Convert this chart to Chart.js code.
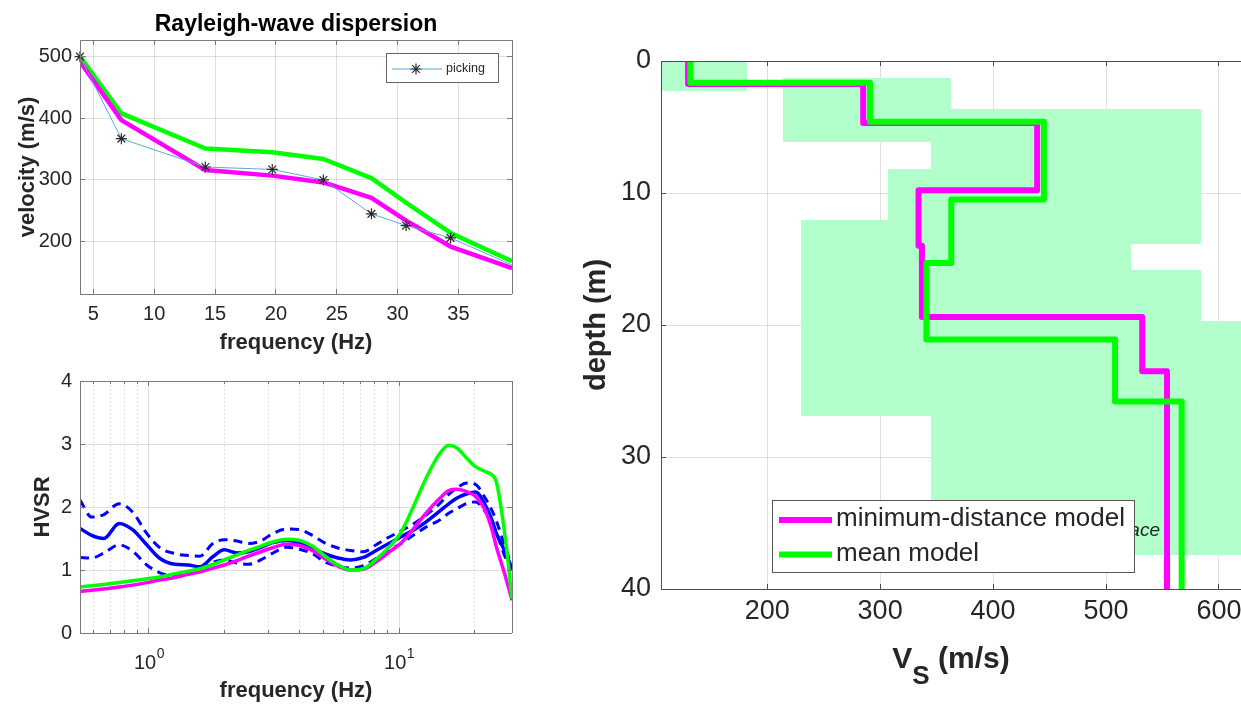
<!DOCTYPE html>
<html>
<head>
<meta charset="utf-8">
<title>Dispersion, HVSR and Vs profile</title>
<script src="https://cdn.jsdelivr.net/npm/chart.js@4.4.1/dist/chart.umd.min.js"></script>
<style>
  html, body { margin: 0; padding: 0; background: #fff; overflow: hidden; width: 1241px; height: 704px; }
  .panel { position: absolute; }
</style>
</head>
<body>
<div class="panel" style="left:0;top:0;width:530px;height:360px"><canvas id="disp"></canvas></div>
<div class="panel" style="left:0;top:360px;width:530px;height:344px"><canvas id="hvsr"></canvas></div>
<div class="panel" style="left:540px;top:0;width:701px;height:704px"><canvas id="vs"></canvas></div>
<script>
// ---------- Rayleigh-wave dispersion (velocity vs frequency) ----------
const DISP_FREQ       = [3.9, 7.3, 14.2, 19.7, 23.9, 27.85, 30.7, 34.35, 39.4];
const DISP_PICKING    = [500, 367, 321, 317, 300, 245, 226, 206, 162];
const DISP_MINDIST    = [492, 397, 316, 307, 296, 271, 234, 192, 157];
const DISP_MEAN       = [500, 408, 351, 345, 334, 303, 263, 214, 168];
const DISP_FREQ_TICKS = [5, 10, 15, 20, 25, 30, 35];
const DISP_VEL_TICKS  = [200, 300, 400, 500];

// ---------- HVSR curves (log frequency) ----------
const HVSR_FREQ = [0.53, 0.59, 0.66, 0.76, 0.86, 0.98, 1.1, 1.27, 1.43, 1.6, 1.8, 2.0, 2.25, 2.5, 2.8, 3.1, 3.55, 4.0, 4.5, 5.1,
                   5.7, 6.4, 7.2, 8.1, 9.1, 10.2, 11.4, 12.8, 14.5, 15.8, 17.0, 18.7, 20.2, 22.2, 23.5, 24.5, 26.5, 28.3];
const HVSR_MEAN = [1.66, 1.55, 1.50, 1.74, 1.64, 1.40, 1.19, 1.09, 1.08, 1.05, 1.21, 1.32, 1.27, 1.29, 1.36, 1.43, 1.47, 1.43, 1.34, 1.25,
                   1.19, 1.16, 1.20, 1.31, 1.42, 1.53, 1.63, 1.76, 1.93, 2.05, 2.14, 2.21, 2.24, 2.02, 1.80, 1.58, 1.30, 1.02];
const HVSR_PLUS = [2.11, 1.84, 1.88, 2.05, 1.92, 1.58, 1.36, 1.26, 1.23, 1.22, 1.42, 1.48, 1.46, 1.42, 1.46, 1.57, 1.65, 1.64, 1.55, 1.42,
                   1.35, 1.31, 1.29, 1.40, 1.52, 1.62, 1.73, 1.87, 2.05, 2.20, 2.30, 2.38, 2.36, 2.13, 1.95, 1.78, 1.38, 1.05];
const HVSR_MINUS = [1.20, 1.19, 1.27, 1.40, 1.30, 1.08, 0.96, 0.91, 0.93, 1.00, 1.12, 1.16, 1.11, 1.09, 1.16, 1.26, 1.36, 1.33, 1.26, 1.12,
                    1.06, 1.03, 1.07, 1.18, 1.31, 1.42, 1.55, 1.68, 1.79, 1.90, 1.97, 2.06, 2.08, 1.92, 1.76, 1.60, 1.22, 1.00];
const HVSR_MINDIST = [0.66, 0.68, 0.70, 0.73, 0.76, 0.80, 0.84, 0.88, 0.93, 0.97, 1.03, 1.08, 1.15, 1.22, 1.29, 1.35, 1.41, 1.39, 1.31, 1.17,
                      1.06, 1.00, 1.01, 1.13, 1.28, 1.43, 1.65, 1.90, 2.13, 2.26, 2.28, 2.24, 2.17, 1.93, 1.65, 1.37, 0.93, 0.52];
const HVSR_MEANMODEL = [0.73, 0.75, 0.77, 0.80, 0.83, 0.86, 0.89, 0.94, 0.98, 1.02, 1.09, 1.16, 1.24, 1.31, 1.38, 1.44, 1.49, 1.47, 1.38, 1.21,
                        1.08, 1.00, 1.02, 1.17, 1.36, 1.60, 2.00, 2.45, 2.84, 2.98, 2.94, 2.77, 2.64, 2.56, 2.51, 2.40, 1.56, 0.55];
const HVSR_FREQ_TICKS = [1, 10];
const HVSR_Y_TICKS    = [0, 1, 2, 3, 4];

// ---------- Vs profiles (layer velocities and layer bottoms, m) ----------
const MINDIST_VS     = [130, 285, 439, 334, 337, 532, 554];
const MINDIST_BOTTOM = [1.75, 4.7, 9.8, 14.0, 19.4, 23.5];
const MEAN_VS        = [132, 291, 445, 363, 341, 508, 567];
const MEAN_BOTTOM    = [1.65, 4.6, 10.5, 15.3, 21.1, 25.8];
// search-space blocks: Vs range and depth range
const SPACE_VS_MIN = [106, 214, 345, 307, 230, 345, 345];
const SPACE_VS_MAX = [182, 363, 584, 400, 522, 584, 650];
const SPACE_TOP    = [0, 1.3, 3.6, 8.2, 12.05, 15.8, 19.7];
const SPACE_BOTTOM = [2.25, 6.1, 13.9, 12.05, 26.9, 19.7, 37.4];
const VS_TICKS    = [200, 300, 400, 500, 600];
const DEPTH_TICKS = [0, 10, 20, 30, 40];

// ---------- shared styling ----------
Chart.defaults.font.family = "'Liberation Sans', Arial, Helvetica, sans-serif";
Chart.defaults.color = '#262626';
const INK = '#262626';
const GRID = 'rgba(38,38,38,0.14)';
const MAGENTA = '#ff00ff';
const GREEN = '#00ff00';
const BLUE = '#0000ff';
const PICK_BLUE = 'rgb(95,165,220)';
const SHADE = 'rgb(179,255,204)';

const snap = p => Math.round(p - 0.5) + 0.5;
const pts = (xs, ys) => xs.map((x, i) => ({ x, y: ys[i] }));
const fixedTicks = list => scale => { scale.ticks = list.map(v => ({ value: v })); };
// fixed axis box size, no extra room reserved for end labels
const fixX = h => s => { s.height = h; s.paddingLeft = 0; s.paddingRight = 0; };
const fixY = w => s => { s.width = w; s.paddingTop = 0; s.paddingBottom = 0; };

// step profile: vertical segment per layer, horizontal jump at each interface
function profilePoints(vs, bottoms, maxDepth) {
  const out = [];
  let top = 0;
  vs.forEach((v, i) => {
    const bot = i < bottoms.length ? bottoms[i] : maxDepth;
    out.push({ x: v, y: top }, { x: v, y: bot });
    top = bot;
  });
  return out;
}

// box, grid and inward tick marks
const framePlugin = {
  id: 'frame',
  beforeDatasetsDraw(chart, _a, o) {
    const { ctx, chartArea: a, scales: { x: xs, y: ys } } = chart;
    ctx.save();
    ctx.lineWidth = 1;
    const V = p => { ctx.beginPath(); ctx.moveTo(p, a.top); ctx.lineTo(p, a.bottom); ctx.stroke(); };
    const H = p => { ctx.beginPath(); ctx.moveTo(a.left, p); ctx.lineTo(a.right, p); ctx.stroke(); };
    if (o.xMinor) {
      ctx.strokeStyle = o.minorGrid;
      ctx.setLineDash([1.5, 2.5]);
      o.xMinor.forEach(v => { const p = snap(xs.getPixelForValue(v)); if (p > a.left + 1 && p < a.right - 1) V(p); });
      ctx.setLineDash([]);
    }
    ctx.strokeStyle = GRID;
    xs.ticks.forEach(t => { const p = snap(xs.getPixelForValue(t.value)); if (p > a.left + 1 && p < a.right - 1) V(p); });
    ys.ticks.forEach(t => { const p = snap(ys.getPixelForValue(t.value)); if (p > a.top + 1 && p < a.bottom - 1) H(p); });
    ctx.restore();
  },
  afterDatasetsDraw(chart, _a, o) {
    const { ctx, chartArea: a, scales: { x: xs, y: ys } } = chart;
    const sides = o.sides || { top: true, right: true, bottom: true, left: true };
    const L = snap(a.left), R = snap(a.right), T = snap(a.top), B = snap(a.bottom);
    const len = o.tickLen || 5;
    ctx.save();
    ctx.strokeStyle = o.color;
    ctx.lineWidth = 1;
    const seg = (x1, y1, x2, y2) => { ctx.beginPath(); ctx.moveTo(x1, y1); ctx.lineTo(x2, y2); ctx.stroke(); };
    if (sides.top) seg(a.left, T, a.right, T);
    if (sides.bottom) seg(a.left, B, a.right, B);
    if (sides.left) seg(L, a.top, L, a.bottom);
    if (sides.right) seg(R, a.top, R, a.bottom);
    const xTick = (v, l) => {
      const p = snap(xs.getPixelForValue(v));
      if (p < a.left || p > a.right) return;
      if (sides.top) seg(p, a.top, p, a.top + l);
      if (sides.bottom) seg(p, a.bottom, p, a.bottom - l);
    };
    xs.ticks.forEach(t => xTick(t.value, len));
    (o.xMinor || []).forEach(v => xTick(v, o.minorLen || 3));
    ys.ticks.forEach(t => {
      const p = snap(ys.getPixelForValue(t.value));
      if (sides.left) seg(a.left, p, a.left + len, p);
      if (sides.right) seg(a.right, p, a.right - len, p);
    });
    ctx.restore();
  }
};

const baseOptions = {
  responsive: true,
  maintainAspectRatio: false,
  animation: false,
  devicePixelRatio: 1,
  events: [],
};

// ================= Rayleigh-wave dispersion =================
const dispDecor = {
  id: 'dispDecor',
  afterDraw(chart) {
    const { ctx, chartArea: a } = chart;
    ctx.save();
    // title over the axes
    ctx.fillStyle = '#000';
    ctx.font = "bold 23px 'Liberation Sans', Arial, sans-serif";
    ctx.textAlign = 'center';
    ctx.textBaseline = 'alphabetic';
    ctx.fillText('Rayleigh-wave dispersion', (a.left + a.right) / 2, 31);
    // legend box (upper right)
    const ds = chart.data.datasets[0];
    const bx = 386, by = 53, bw = 113, bh = 30;
    ctx.fillStyle = '#fff';
    ctx.fillRect(bx, by, bw, bh);
    ctx.strokeStyle = '#666';
    ctx.lineWidth = 1;
    ctx.strokeRect(bx + 0.5, by + 0.5, bw - 1, bh - 1);
    const cy = by + 16;
    ctx.strokeStyle = ds.borderColor;
    ctx.lineWidth = ds.borderWidth;
    ctx.beginPath(); ctx.moveTo(bx + 6, cy); ctx.lineTo(bx + 56, cy); ctx.stroke();
    ctx.strokeStyle = ds.pointBorderColor;
    ctx.lineWidth = 1.2;
    Chart.helpers.drawPoint(ctx, { pointStyle: 'star', radius: 5.5, borderWidth: 1.2 }, bx + 30, cy);
    ctx.fillStyle = INK;
    ctx.font = "12.5px 'Liberation Sans', Arial, sans-serif";
    ctx.textAlign = 'left';
    ctx.textBaseline = 'middle';
    ctx.fillText(ds.label, bx + 60, cy);
    ctx.restore();
  }
};

new Chart(document.getElementById('disp'), {
  type: 'line',
  data: {
    datasets: [
      {
        label: 'picking',
        data: pts(DISP_FREQ, DISP_PICKING),
        borderColor: PICK_BLUE, borderWidth: 1,
        pointStyle: 'star',
        pointRadius: DISP_FREQ.map((f, i) => (i === DISP_FREQ.length - 1 ? 0 : 5.5)),
        pointBorderColor: '#2b2b2b', pointBorderWidth: 1.2, pointBackgroundColor: 'transparent',
        tension: 0, clip: false,
      },
      {
        label: 'minimum-distance model',
        data: pts(DISP_FREQ, DISP_MINDIST),
        borderColor: MAGENTA, borderWidth: 4.5, pointRadius: 0, tension: 0, clip: 0,
        borderJoinStyle: 'round',
      },
      {
        label: 'mean model',
        data: pts(DISP_FREQ, DISP_MEAN),
        borderColor: GREEN, borderWidth: 4.5, pointRadius: 0, tension: 0, clip: 0,
        borderJoinStyle: 'round',
      },
    ],
  },
  options: {
    ...baseOptions,
    layout: { padding: { top: 40, right: 18, bottom: 0, left: 0 } },
    plugins: {
      legend: { display: false }, tooltip: { enabled: false },
      frame: { color: '#7a7a7a', tickLen: 5 },
    },
    scales: {
      x: {
        type: 'linear', min: 3.9, max: 39.4,
        afterBuildTicks: fixedTicks(DISP_FREQ_TICKS),
        afterFit: fixX(66),
        grid: { display: false, drawTicks: false }, border: { display: false },
        ticks: { font: { size: 20 }, color: INK, padding: 8, maxRotation: 0, autoSkip: false },
        title: { display: true, text: 'frequency (Hz)', color: INK, font: { size: 22, weight: 'bold' }, padding: { top: 0, bottom: 3.5 } },
      },
      y: {
        type: 'linear', min: 115, max: 527,
        afterBuildTicks: fixedTicks(DISP_VEL_TICKS),
        afterFit: fixY(80),
        grid: { display: false, drawTicks: false }, border: { display: false },
        ticks: { font: { size: 20 }, color: INK, padding: 8, autoSkip: false },
        title: { display: true, text: 'velocity (m/s)', color: INK, font: { size: 22, weight: 'bold' }, padding: { top: 14.5, bottom: 0 } },
      },
    },
  },
  plugins: [framePlugin, dispDecor],
});

// ================= HVSR =================
const HVSR_MINOR = [];
[0.1, 1, 10].forEach(d => { for (let k = 2; k <= 9; k++) HVSR_MINOR.push(k * d); });

const hvsrDecor = {
  id: 'hvsrDecor',
  afterDraw(chart) {
    const { ctx, scales: { x: xs } } = chart;
    ctx.save();
    ctx.fillStyle = INK;
    ctx.textBaseline = 'alphabetic';
    ctx.textAlign = 'left';
    const big = "20px 'Liberation Sans', Arial, sans-serif";
    const small = "14px 'Liberation Sans', Arial, sans-serif";
    HVSR_FREQ_TICKS.forEach(v => {
      const exp = String(Math.round(Math.log10(v)));
      ctx.font = big; const w1 = ctx.measureText('10').width;
      ctx.font = small; const w2 = ctx.measureText(exp).width;
      const x0 = xs.getPixelForValue(v) - (w1 + w2) / 2;
      ctx.font = big; ctx.fillText('10', x0, 309);
      ctx.font = small; ctx.fillText(exp, x0 + w1 + 0.5, 298);
    });
    ctx.restore();
  }
};

const curve = (label, ys, color, width, dash) => ({
  label, data: pts(HVSR_FREQ, ys), borderColor: color, borderWidth: width,
  borderDash: dash || [], pointRadius: 0, cubicInterpolationMode: 'monotone', clip: 0,
  borderCapStyle: 'butt', borderJoinStyle: 'round',
});

new Chart(document.getElementById('hvsr'), {
  type: 'line',
  data: {
    datasets: [
      curve('mean model', HVSR_MEANMODEL, GREEN, 3.5),
      curve('minimum-distance model', HVSR_MINDIST, MAGENTA, 3.5),
      curve('HVSR mean', HVSR_MEAN, BLUE, 3.5),
      curve('HVSR + std', HVSR_PLUS, BLUE, 3, [9, 6]),
      curve('HVSR - std', HVSR_MINUS, BLUE, 3, [9, 6]),
    ],
  },
  options: {
    ...baseOptions,
    layout: { padding: { top: 21, right: 18, bottom: 0, left: 0 } },
    plugins: {
      legend: { display: false }, tooltip: { enabled: false },
      frame: { color: '#7a7a7a', tickLen: 5, xMinor: HVSR_MINOR, minorLen: 3, minorGrid: 'rgba(38,38,38,0.18)' },
    },
    scales: {
      x: {
        type: 'logarithmic', min: 0.53, max: 28.3,
        afterBuildTicks: fixedTicks(HVSR_FREQ_TICKS),
        afterFit: fixX(71),
        grid: { display: false, drawTicks: false }, border: { display: false },
        ticks: { display: false },
        title: { display: true, text: 'frequency (Hz)', color: INK, font: { size: 22, weight: 'bold' }, padding: { top: 0, bottom: 0 } },
      },
      y: {
        type: 'linear', min: 0, max: 4,
        afterBuildTicks: fixedTicks(HVSR_Y_TICKS),
        afterFit: fixY(80),
        grid: { display: false, drawTicks: false }, border: { display: false },
        ticks: { font: { size: 20 }, color: INK, padding: 8, autoSkip: false },
        title: { display: true, text: 'HVSR', color: INK, font: { size: 22, weight: 'bold' }, padding: { top: 30, bottom: 0 } },
      },
    },
  },
  plugins: [framePlugin, hvsrDecor],
});

// ================= Vs profile =================
const shadePlugin = {
  id: 'shade',
  beforeDatasetsDraw(chart) {
    const { ctx, chartArea: a, scales: { x: xs, y: ys } } = chart;
    ctx.save();
    ctx.beginPath(); ctx.rect(a.left, a.top, a.right - a.left, a.bottom - a.top); ctx.clip();
    ctx.fillStyle = SHADE;
    SPACE_VS_MIN.forEach((v, i) => {
      const x0 = Math.round(xs.getPixelForValue(v)), x1 = Math.round(xs.getPixelForValue(SPACE_VS_MAX[i]));
      const y0 = Math.round(ys.getPixelForValue(SPACE_TOP[i])), y1 = Math.round(ys.getPixelForValue(SPACE_BOTTOM[i]));
      ctx.fillRect(x0, y0, x1 - x0, y1 - y0);
    });
    // label of the shaded region
    ctx.fillStyle = INK;
    ctx.font = "italic 19px 'Liberation Sans', Arial, sans-serif";
    ctx.textAlign = 'right';
    ctx.textBaseline = 'alphabetic';
    ctx.fillText('search space', 620, 536);
    ctx.restore();
  }
};

const vsDecor = {
  id: 'vsDecor',
  afterDraw(chart) {
    const { ctx, chartArea: a } = chart;
    ctx.save();
    // legend inside the axes
    const bx = 232, by = 500, bw = 363, bh = 73;
    ctx.fillStyle = '#fff';
    ctx.fillRect(bx, by, bw, bh);
    ctx.strokeStyle = '#555';
    ctx.lineWidth = 1;
    ctx.strokeRect(bx + 0.5, by + 0.5, bw - 1, bh - 1);
    ctx.font = "26px 'Liberation Sans', Arial, sans-serif";
    ctx.textAlign = 'left';
    ctx.textBaseline = 'middle';
    [1, 0].forEach((di, k) => {
      const ds = chart.data.datasets[di];
      const cy = by + 20 + k * 34.5;
      ctx.strokeStyle = ds.borderColor;
      ctx.lineWidth = ds.borderWidth;
      ctx.lineCap = 'butt';
      ctx.beginPath(); ctx.moveTo(bx + 7, cy); ctx.lineTo(bx + 60, cy); ctx.stroke();
      ctx.fillStyle = INK;
      ctx.fillText(ds.label, bx + 64, cy - 1);
    });
    // x-axis label with subscript
    const f1 = "bold 30px 'Liberation Sans', Arial, sans-serif";
    const f2 = "bold 26px 'Liberation Sans', Arial, sans-serif";
    ctx.textBaseline = 'alphabetic';
    ctx.font = f1; const wV = ctx.measureText('V').width; const wR = ctx.measureText(' (m/s)').width;
    ctx.font = f2; const wS = ctx.measureText('S').width;
    let x = (a.left + a.right) / 2 - (wV + wS + wR) / 2;
    ctx.fillStyle = INK;
    ctx.font = f1; ctx.fillText('V', x, 668); x += wV;
    ctx.font = f2; ctx.fillText('S', x, 684); x += wS;
    ctx.font = f1; ctx.fillText(' (m/s)', x, 668);
    ctx.restore();
  }
};

new Chart(document.getElementById('vs'), {
  type: 'line',
  data: {
    datasets: [
      {
        label: 'mean model',
        data: profilePoints(MEAN_VS, MEAN_BOTTOM, 40),
        borderColor: GREEN, borderWidth: 6, pointRadius: 0, tension: 0, clip: 0,
        borderJoinStyle: 'round', borderCapStyle: 'round',
      },
      {
        label: 'minimum-distance model',
        data: profilePoints(MINDIST_VS, MINDIST_BOTTOM, 40),
        borderColor: MAGENTA, borderWidth: 6, pointRadius: 0, tension: 0, clip: 0,
        borderJoinStyle: 'round', borderCapStyle: 'round',
      },
    ],
  },
  options: {
    ...baseOptions,
    layout: { padding: { top: 61, right: 0, bottom: 0, left: 0 } },
    plugins: {
      legend: { display: false }, tooltip: { enabled: false },
      frame: { color: '#4d4d4d', tickLen: 5, sides: { top: true, right: false, bottom: true, left: true } },
    },
    scales: {
      x: {
        type: 'linear', min: 106, max: 619.5,
        afterBuildTicks: fixedTicks(VS_TICKS),
        afterFit: fixX(115),
        grid: { display: false, drawTicks: false }, border: { display: false },
        ticks: { font: { size: 27 }, color: INK, padding: 6, maxRotation: 0, autoSkip: false },
      },
      y: {
        type: 'linear', min: 0, max: 40, reverse: true,
        afterBuildTicks: fixedTicks(DEPTH_TICKS),
        afterFit: fixY(121),
        grid: { display: false, drawTicks: false }, border: { display: false },
        ticks: { font: { size: 27 }, color: INK, padding: 10, autoSkip: false },
        title: { display: true, text: 'depth (m)', color: INK, font: { size: 29, weight: 'bold' }, padding: { top: 39.5, bottom: 0 } },
      },
    },
  },
  plugins: [framePlugin, shadePlugin, vsDecor],
});
</script>
</body>
</html>
